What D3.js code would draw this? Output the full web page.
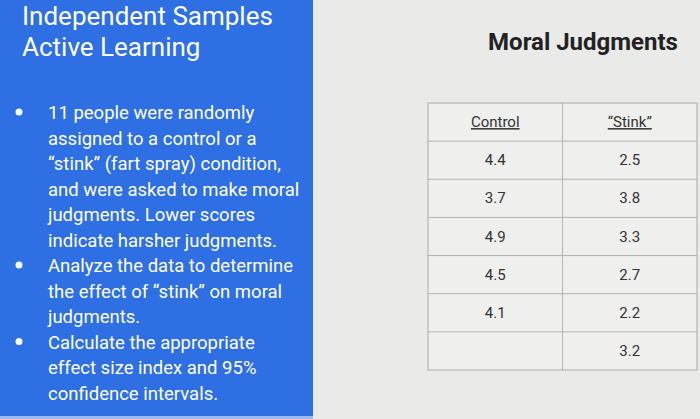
<!DOCTYPE html>
<html><head><meta charset="utf-8">
<script src="https://cdn.jsdelivr.net/npm/d3@7"></script>
<style>body{margin:0;background:#e9e9e8;}svg{display:block;}</style>
</head><body><svg id="c" width="700" height="419"></svg>
<script>
const titleLines = ["Independent Samples", "Active Learning"];
const bullets = [
  ["11 people were randomly", "assigned to a control or a", "\u201cstink\u201d (fart spray) condition,", "and were asked to make moral", "judgments.  Lower scores", "indicate harsher judgments."],
  ["Analyze the data to determine", "the effect of \u201cstink\u201d on moral", "judgments."],
  ["Calculate the appropriate", "effect size index and 95%", "confidence intervals."]
];
const tableTitle = "Moral Judgments";
const columns = ["Control", "\u201cStink\u201d"];
const controlValues = ["4.4", "3.7", "4.9", "4.5", "4.1", ""];
const stinkValues = ["2.5", "3.8", "3.3", "2.7", "2.2", "3.2"];

const svg = d3.select("#c");
const font = "Roboto, 'Liberation Sans', sans-serif";
svg.append("rect").attr("width",700).attr("height",419).attr("fill","#eaeae9");
svg.append("rect").attr("width",313).attr("height",416).attr("fill","#2e6fe4");
svg.append("rect").attr("y",416).attr("width",313).attr("height",3).attr("fill","#9db9ee");

svg.selectAll("text.t").data(titleLines).enter().append("text")
  .attr("x",22).attr("y",(d,i)=>25+i*31).attr("fill","#fff")
  .attr("font-family",font).attr("font-size",26).text(d=>d);

let line=0;
bullets.forEach((b)=>{
  svg.append("circle").attr("cx",19).attr("cy",112+line*25.5).attr("r",3.5).attr("fill","#fff");
  b.forEach(t=>{
    svg.append("text").attr("x",48).attr("y",119+line*25.5).attr("fill","#fff")
      .attr("font-family",font).attr("font-size",18.5).text(t);
    line++;
  });
});

svg.append("text").attr("x",583).attr("y",50).attr("text-anchor","middle")
  .attr("font-family",font).attr("font-weight","bold").attr("font-size",24).attr("fill","#222").text(tableTitle);

const rows = [columns].concat(controlValues.map((v,i)=>[v,stinkValues[i]]));
const x = d3.scaleBand().domain([0,1]).range([428,697]);
const y = d3.scaleBand().domain(d3.range(rows.length)).range([103,370]);
const g = svg.append("g");
g.append("rect").attr("x",428).attr("y",103).attr("width",269).attr("height",267)
  .attr("fill","#efefee").attr("stroke","#a9a9a9").attr("stroke-width",1);
g.selectAll("line.h").data(d3.range(1,rows.length)).enter().append("line")
  .attr("x1",428).attr("x2",697).attr("y1",d=>y(d)).attr("y2",d=>y(d)).attr("stroke","#b3b3b3");
g.append("line").attr("x1",x(1)).attr("x2",x(1)).attr("y1",103).attr("y2",370).attr("stroke","#b3b3b3");
rows.forEach((r,ri)=>{
  r.forEach((v,ci)=>{
    g.append("text").attr("x",x(ci)+x.bandwidth()/2).attr("y",y(ri)+y.bandwidth()/2+5)
      .attr("text-anchor","middle").attr("font-family",font).attr("font-size",15)
      .attr("fill","#333").attr("text-decoration",ri===0?"underline":null).text(v);
  });
});
</script></body></html>
